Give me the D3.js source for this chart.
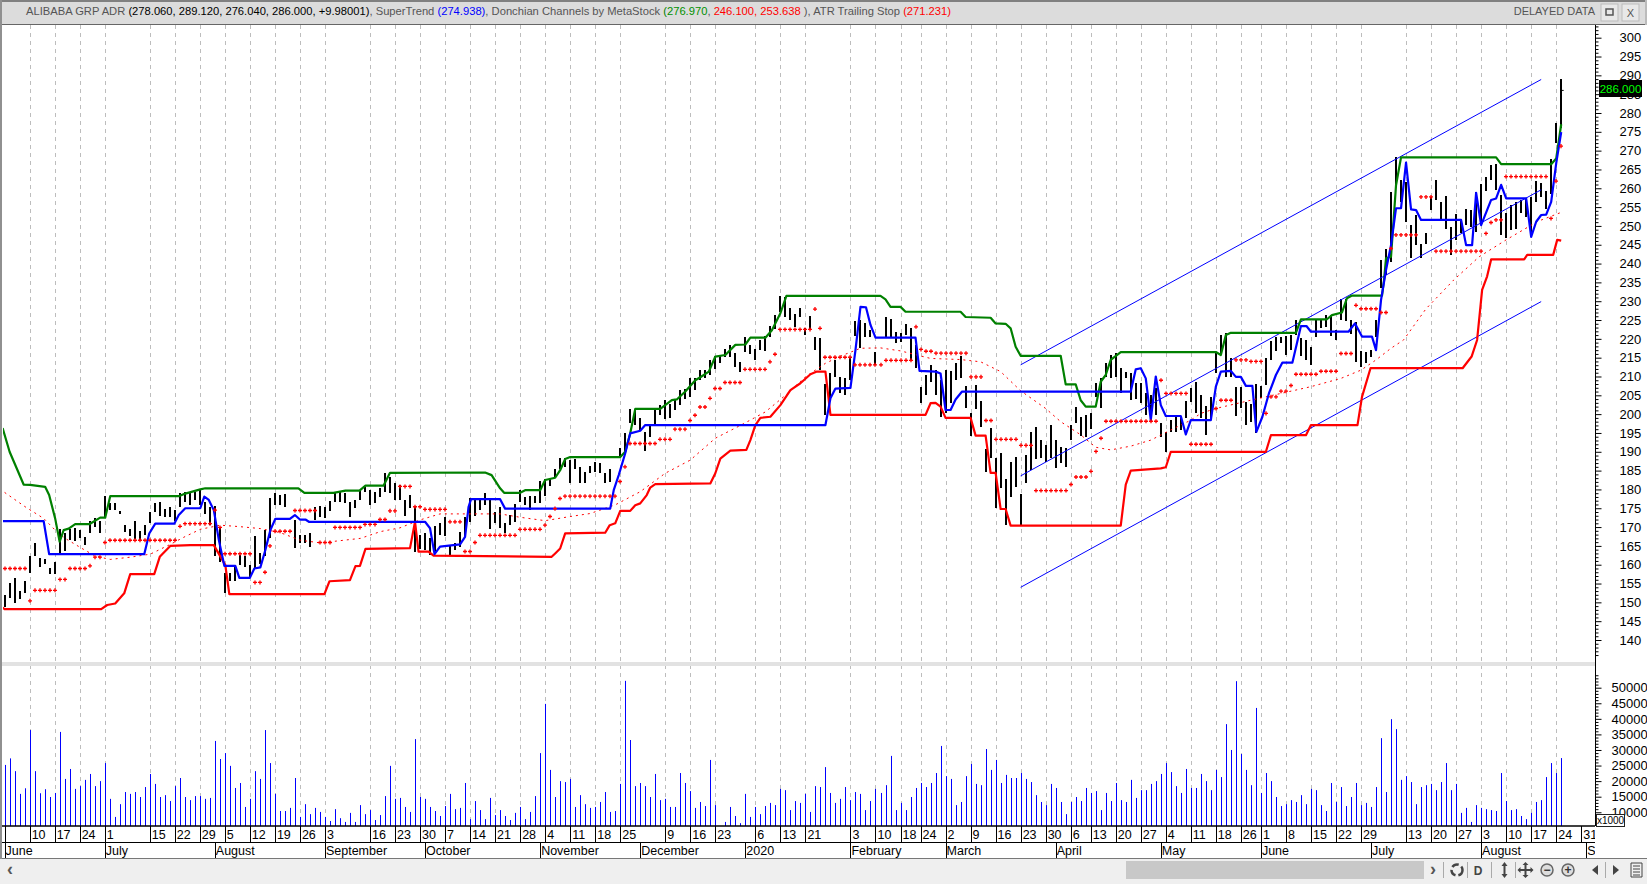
<!DOCTYPE html>
<html><head><meta charset="utf-8">
<script src="https://cdn.jsdelivr.net/npm/d3@7/dist/d3.min.js"></script>
<style>html,body{margin:0;padding:0;background:#fff;overflow:hidden}svg{display:block}text{font-family:"Liberation Sans",Arial,sans-serif}</style>
</head><body><svg id="c" width="1647" height="884"></svg>
<script>
const highs=[152.0,155.2,156.4,153.1,155.8,162.3,165.9,161.9,161.4,159.0,
160.8,169.4,168.3,169.4,169.7,169.2,167.4,171.6,172.3,171.6,
178.2,176.5,176.3,174.3,170.5,169.4,171.7,168.9,170.5,174.1,
176.5,176.6,174.7,175.4,174.5,179.0,179.2,179.4,179.4,179.9,
176.7,175.4,175.6,170.1,157.7,157.7,159.9,162.6,162.3,159.9,
167.6,163.0,169.2,177.8,179.0,178.5,178.7,null,171.9,167.9,
167.9,168.3,175.4,175.6,175.4,177.0,179.4,179.2,179.0,176.7,
177.2,179.8,180.7,179.8,179.4,180.3,184.3,183.4,181.6,181.2,
177.2,178.5,175.4,167.9,168.3,167.0,170.3,171.0,172.6,165.2,
165.7,168.8,172.8,177.6,177.2,177.2,179.0,177.2,174.1,175.4,
171,173.2,176,179.8,178.1,178.3,178.3,182.3,182.7,182.9,
185.3,188.3,188.3,187.8,188,185.9,184.7,186.2,187.4,187.1,
184.3,185.3,null,190.9,195.1,201.4,201.4,198.9,195.3,197.1,
201.1,202.4,203.7,202.8,203.7,206.4,206.6,209.5,209.5,211.7,
211.7,214.3,215.4,215.4,217.4,218.3,216.3,213.9,220.4,218.3,
217.4,219.7,220.7,223.4,226.3,231.3,231.2,228.1,226.7,228.3,
222.8,226,220.4,220.3,208.1,211,214.3,209.9,209.5,214.8,
224.8,225,224.1,222.3,216.6,null,225.7,225.2,221.9,221.5,
223.9,222.8,218.3,207.3,210.4,213.1,211.7,209.1,211.7,211.5,
213.5,215.4,207.5,200.2,207.7,203.5,190.7,196.2,188.3,189.6,
182.7,187.4,188.5,178.8,189.1,195.3,196.5,193.1,191.8,197.1,
193.1,191.4,190.9,197.1,201.8,199.3,199.8,200.4,208.2,209.5,
213.5,215.7,216.3,212.2,211.3,210.8,208.2,208.2,205.5,205.1,
206.9,197.6,195.3,198.4,199.8,199.3,203.6,206.9,208.6,205.1,
202.2,204.6,216.2,221,221.6,214.8,207.3,207.3,203.3,202.8,
208.1,207.4,214.8,219.4,220.5,220.5,220.7,221,225.1,220.1,
219.8,217.9,225.1,225.1,226.3,226.3,222.3,230.5,230.7,225,
224.5,216.8,216.6,217,225.1,240.9,244,259.1,268.4,262.2,
261.7,250.2,252.9,245.3,248.2,257.7,262.2,256.4,257.9,249.8,
253.1,251.5,254.6,254.2,259.1,261.1,263.1,266.2,266.4,258.2,
253.3,255.5,256.4,257,257.3,257.7,262,261.5,259.3,267.7,
277.4,289.1];
const lows=[148.8,151.1,149.7,150.9,152.4,157.9,162.3,159.3,160.2,157.5,
157.5,162.8,163.7,166.6,166.4,167,165.2,168.3,169.9,168.3,
172.3,174.5,174.5,173.5,168.6,167.6,166.8,166.6,167.9,171,
173.9,173,172.8,172.6,171.6,175.2,176.7,175.9,177.2,175.9,
173.4,170.5,162.3,160.8,152.4,155.8,155.8,159.9,159.3,156.8,
158.8,160.2,162.3,167,175.9,175.9,175.4,null,164.4,165.7,
165.7,164.6,171.9,172.8,172.3,174.4,176.7,176.7,176.3,172.8,
175,177.2,179.4,175.9,176.5,178.1,179.4,179,177.2,177.2,
172.9,175,163.5,164.3,163.9,162.6,163,167.9,167.6,162.6,
164,164.8,167.4,171.4,172.9,174.5,175.9,169.4,171,169.7,
168.5,170.5,171.4,176.7,175.9,174.5,176.5,176.5,178.3,180.9,
183.4,185.3,186,181.8,185.3,181.8,181.8,184.3,184.5,184.3,
181.6,182.1,null,188.9,190,197.6,197.1,195.6,190.3,193.8,
197.3,199.7,198.6,199.1,201.2,202.4,203.9,204.6,206.4,209,
209.5,210.4,212.1,213.5,215.2,215.2,212.4,211.2,216.6,215.9,
214.5,217,216.8,220.5,222.5,227.2,225.9,225,223.2,225.9,
221,222.3,217,211.7,199.8,203.7,209.9,205.5,205,209,
220.7,217.5,220.4,220.4,213,null,220.6,220.6,218.8,219.2,
221,214.4,212.2,202.9,205.1,208.6,205.1,199.3,200.2,202.9,
209.1,209.5,201.5,194.3,201.3,196.7,184.5,188.3,175,180.3,
170.5,177.9,180.7,170.5,181.6,185.2,188.1,188.3,187.4,188.3,
185.6,186.9,185.9,193.1,197.6,194.2,193.8,196,204.5,201.5,
209.8,209.5,209.8,205.5,209.5,203.8,203.9,202.9,199.8,198,
199.8,194,190,195.3,195.3,195.8,198.9,203.1,200.4,198.9,
194.5,198.6,210.8,215.7,209.9,209.9,199.5,201.5,197.1,198,
195,204.2,207.7,214.3,216.8,218.8,215.7,217,221,215.4,
214.3,213,220.5,222.8,223.2,220.7,219.7,225,224.8,221.4,
213.9,212.4,213.5,215.2,220.5,233.5,237,240.5,260.8,256.4,
251.1,241.4,244.9,241.4,245.3,254.2,256.9,251.5,249.3,242.2,
246.2,248,250.2,249.8,248.4,250.2,259.3,262.2,259.5,247.6,
246.7,248.9,249.3,253.3,252.4,247.6,256.4,257.7,254.6,258.6,
272.1,276];
const volumeK=[25.2,27.3,23.2,15.9,17.7,36.4,23.2,16.1,17.4,14.9,
16.2,35.8,20.7,23.9,17.5,18.4,20.4,22.3,18.4,20,
25.8,14.3,8.5,12.6,16.5,15.9,16.5,14.9,18.1,22.3,
19.1,14.9,15.5,13.6,18.4,21,14.9,13.9,15.2,15.2,
14.3,14.6,32.9,27.1,29,24.9,17.8,19.4,11.7,14.3,
23.2,20.7,36.4,25.8,15.9,10.4,10.4,11.4,21,8.5,
12.6,9.4,11.4,10.1,8.5,7.2,11,8.1,6.9,9.8,
6.9,12.3,9.4,10.7,7.5,9.1,15.2,24.9,14.3,14.6,
11.7,10.1,33.5,14.9,14.3,11.7,10.4,8.8,12,15.9,
11,11.4,19.4,7.8,13.6,10.7,7.8,14.6,9.1,10.7,
8.8,7.5,9.8,11.7,7.8,10.1,15.2,29,44.8,23.6,
14.9,20,19.7,20.7,11.7,15.5,12.6,11.4,11.7,13.3,
16.5,10.1,10.4,19.1,52.2,33.2,18.4,19.4,18.4,14.9,
22.3,13.9,14.3,11.7,11.7,22.6,19.4,16.8,11.4,13.3,
12,26.8,12.3,5,6.9,11.7,8.8,6.5,15.9,8.5,
11.7,9.4,12,13,12.3,17.5,17.1,10.7,13.6,13,
15.9,10.1,18.4,18.1,24.5,16.2,13,14.3,18.1,13.9,
16.5,15.9,10.7,13.6,17.5,16.2,18.7,28.1,10.7,13,
10.7,14.9,17.8,19.4,18.1,19.4,22.6,31.3,21.6,20.7,
12.3,13.3,21.6,25.5,19.1,18.7,30.3,23.6,26.8,19.4,
22,21,21,22.6,20.7,19.7,15.5,13.3,12.3,19.1,
17.8,13.3,9.4,13.3,14.9,13.6,17.8,16.2,16.8,10.7,
16.2,13.6,19.4,13.9,13.3,20.4,14.6,17.1,17.1,19.1,
20,22.3,25.8,22.9,18.4,16.2,23.9,17.8,17.8,22.3,
20,17.1,23.6,21.3,38.3,30,52.1,28.7,23.6,18.7,
43.5,16.2,22.6,20,14.9,12,12.6,13.9,13.3,15.5,
12.6,17.5,17.1,12.3,10.4,19.4,13.3,18.1,12,14.9,
19.4,12.3,13,11.7,18.1,33.8,16.5,39.9,36.7,20.4,
21.6,19.7,12.6,18.1,18.7,19.1,17.1,19.7,25.8,17.1,
19.1,9.8,11.4,6.9,12.3,11.4,11,10.7,10.4,22.6,
13.6,10.7,11,8.8,7.8,9.8,13.3,13.9,21.3,25.8,
22.6,27.4];
const donchianUpper=[[-0.4,196.3],[1,190],[3.8,181.3],[5.1,181.2],[8.1,180.7],[8.9,178.5],[10.1,172.3],[11,166.1],[11.8,169.2],[12.8,169.6],[14.1,170.8],[17,170.8],[19.1,172.5],[20.1,172.5],[21.1,178.2],[34.8,178.2],[36.1,178.9],[39.1,180],[40.1,180.3],[58.7,180.3],[59.9,179.1],[65.7,179.1],[68.1,179.7],[70.9,179.7],[72.1,181],[75.7,181],[77,184.4],[96,184.5],[97.3,183.8],[99,180.3],[99.8,179.1],[103,179.1],[104,179.8],[107,179.8],[108,182.5],[110,183.1],[111,185.1],[112,188.1],[113,188.6],[123,188.6],[124,190],[125,194.9],[126,201.4],[131,201.4],[133.3,203.7],[134.3,203.9],[136,206],[138,209],[139,209.8],[140.7,211.3],[142,215.3],[144,215.7],[146,218.4],[148,218.5],[149,220.3],[152,220.3],[153.3,222.3],[155,226.8],[156.2,231.4],[175,231.4],[176,230.5],[177,228.5],[179,228.5],[180,227.2],[191,227.2],[192,225.8],[197,225.6],[198,224.1],[200,224],[201,222.8],[202,217.9],[203,215.5],[211,215.5],[212,207.9],[214,207.9],[215,203.7],[216,202],[218,202],[219,208.6],[220,210.4],[221,214.4],[223,216.5],[242,216.5],[243,215.7],[244,221],[245,221.6],[258,221.6],[259,225.2],[264.2,225.2],[265.2,226.3],[267.2,227],[268.2,230.8],[269.2,231.5],[275.2,231.5],[275.6,235.6],[276,241.4],[277,241.8],[278,260.8],[279,268.2],[298,268.2],[299,266.4],[309,266.4],[310,267.9],[311,277]];
const donchianLower=[[-0.4,148.6],[0,148.2],[19.3,148.2],[20.5,149.3],[22.1,149.7],[23.9,152.4],[25.1,157.5],[29.9,157.5],[31,162.1],[33.1,165],[37.1,165.2],[41.8,165.2],[44.1,159.9],[44.9,152.2],[63.9,152.2],[64.9,155.6],[69,155.9],[70.1,159.6],[71,159.7],[72.1,164.2],[81,164.4],[82,171.4],[82.7,163.5],[84.7,163.5],[85.7,162.4],[109.3,162.1],[110,163],[111,164.3],[112,168.3],[120,168.5],[120.9,170.5],[122,171],[123,174.3],[125,174.3],[126,175.8],[127,176.3],[128.3,178.5],[129,180.5],[130,181.4],[141,181.6],[142,184.3],[143,188.2],[145,190.3],[148.2,190.5],[149,193.1],[150,197.1],[151,199],[153,199.3],[155,202.4],[157,206.4],[159,208.2],[161,210.6],[162.3,211.3],[164,211.3],[165,199.8],[184,199.8],[185,202.9],[186,203],[187,202],[188,199],[193,199],[194,194.3],[196,194.3],[197,184.4],[198,184.4],[199,174.8],[200,174.8],[201,170.4],[223,170.4],[224,181.3],[225,185],[231,185.6],[232,185.9],[233,190],[252,190],[253,194.4],[260,194.4],[261,197.1],[270.3,197.1],[271.2,204.6],[272.9,212.2],[291.3,212.2],[293.1,215.3],[294.2,219.7],[295.2,233],[296.2,236.6],[297,241.1],[303.6,241.1],[304.2,242.3],[309.4,242.3],[310.2,246.3],[311,246.1]];
const superTrend=[[-0.4,171.6],[7.8,171.6],[8.9,162.8],[27.9,162.8],[28.9,168.3],[30.1,170.9],[33.9,170.9],[34.8,173.2],[36.1,175],[39.1,175],[39.9,178.1],[40.8,177.2],[41.8,174.5],[42.8,166.6],[43.9,159.7],[46.1,159.7],[46.9,156.5],[49,156.5],[49.9,159],[51.1,159.3],[52.1,163.9],[53.1,169.2],[54.1,172.2],[57,172.2],[58,173.2],[59,172],[60.1,172],[60.8,171.4],[84,171.4],[85,169.7],[85.9,162.8],[87,164.8],[91,165.4],[92,167.4],[92.7,175.4],[93.2,177.4],[99,177.4],[100,174.9],[121,174.9],[121.7,179.8],[122.7,183.8],[124,189.6],[125,194.9],[127,195.6],[128,197.1],[164,197.1],[165,204.2],[166,206.8],[169,207],[170,217],[171,228.5],[172.1,228.4],[173,223.7],[174,220.3],[182,220.3],[182.8,211.5],[186,211.3],[187,210.8],[188,201.1],[189,201.1],[190,203.9],[191.3,206],[225,206],[226,211.9],[227,212.2],[228,209.5],[229,198.4],[230,210],[231,202.4],[232,199.5],[235,199.5],[236,194.6],[237,198.4],[241,198.4],[242,207.3],[243,211.3],[245,211.5],[246,209.9],[247,209.9],[248,207.5],[249.3,207.5],[250.1,195.3],[251.3,199.3],[252.6,205.5],[254,210.4],[255.3,213.7],[257.3,213.7],[258.2,218.8],[259,223.4],[260.1,223.4],[261,221.9],[268.5,221.9],[269.8,224.1],[271.2,220.6],[273.2,220.6],[274,217],[275,230.3],[276,238.3],[277,244.9],[278,254.7],[279,254.7],[280,266.8],[281,254.4],[282,254.2],[283,251.6],[291,251.6],[292,244.9],[293.2,244.9],[294,258.8],[295,250.2],[297,256.9],[298,257.3],[299,260.9],[300,257.3],[304,257.3],[305,247.1],[306,251.1],[307,252.9],[308,253],[309,256.4],[310,266.6],[311,274.9]];
const donchianMid=[[0,179.2],[4.1,175.4],[7.8,172.3],[10.1,169.2],[12.1,167],[15.1,164.6],[18.1,162.3],[21.1,161.4],[25.1,162],[29.1,162.8],[33.1,165.4],[36.1,167.5],[39.1,169.4],[43.1,170.5],[47.1,170.1],[51.1,169.6],[55.1,168.5],[59.1,166.5],[63.1,165.8],[67.1,166.4],[71.1,167],[75.1,168.8],[79,169.8],[83,171.9],[87,173.5],[92,173.5],[99,173.5],[103,172.6],[108,171.7],[113,172.8],[117,173.6],[122,175.9],[127,179.4],[132,184.3],[137,187.8],[142,193.6],[147,197],[152,200.6],[156,205],[160,209.9],[164,213.5],[167,215.4],[171,217.5],[175,217.6],[179,216.8],[185,214.8],[191,214.5],[195,213.9],[199,211.3],[203,206.2],[208,201.5],[211,198],[215,194.5],[218,191.2],[221,190.5],[225,191.5],[229,193.1],[233,195.8],[237,198.4],[239,200.2],[242,201.5],[249,203.7],[255,205.5],[261,207.3],[267,209.5],[271,211.7],[274,214.4],[277,217.5],[279.5,219.7],[284,228],[289.5,235.6],[294.6,241.8],[300,246.3],[306.3,251.2],[311,253.6]];
const stopRuns=[[0,4,159],[5,5,150.4],[6,10,153.2],[11,12,156.1],[13,16,159],[17,17,159.7],[18,19,162],[20,20,165.9],[21,34,166.5],[35,35,170.2],[36,41,170.9],[42,42,174.5],[43,43,169.9],[44,49,162.9],[50,51,155.3],[52,52,158],[53,53,165],[54,57,168.9],[58,62,174.4],[63,65,165.9],[66,71,169.9],[72,74,170.7],[75,76,172],[77,78,174.3],[79,81,180.8],[82,83,175.4],[84,88,174.7],[89,91,171.4],[92,93,163.5],[94,94,165.9],[95,102,167.8],[103,107,169.4],[108,108,170.5],[109,109,172.8],[110,110,174.9],[111,111,177.6],[112,122,178.2],[123,123,182.1],[124,124,186],[125,130,192.2],[131,133,193.3],[134,136,196],[137,137,198.3],[138,138,199.7],[139,140,201.9],[141,141,204.2],[142,143,206.8],[144,147,208.4],[148,152,211.9],[153,153,213.9],[154,154,215.9],[155,161,222.5],[162,162,227.9],[163,163,222.8],[164,169,215.1],[170,175,213.1],[176,181,214.3],[182,182,223.2],[183,183,217.2],[184,185,216.7],[186,192,216.2],[193,195,209.9],[196,197,198.3],[198,202,193.3],[203,205,191.7],[206,212,179.7],[213,213,181.3],[214,216,183.3],[217,217,184.8],[218,218,190.1],[219,219,193.6],[220,230,198.1],[231,231,209],[232,236,205.5],[237,241,192],[242,242,201.5],[243,245,203.7],[246,248,214.4],[249,251,214],[252,252,200.2],[253,254,204.6],[255,256,206.1],[257,257,207.6],[258,262,210.6],[263,266,211.4],[267,269,216.1],[270,270,228.9],[271,274,228],[275,276,227],[277,277,244],[278,282,247.6],[283,285,257.7],[286,295,243.3],[296,296,248],[297,297,250.9],[298,299,251.6],[300,308,263.1],[309,309,252],[310,310,261.9],[311,311,271.2]];
const channelIdx=[203,307];
const channelUpper=[213.1,288.9];
const channelMiddle=[183.6,259.6];
const channelLower=[154,229.9];
const weekIdx=[5,10,15,20,29,34,39,44,49,54,59,64,73,78,83,88,93,98,103,108,113,118,123,132,137,142,150,155,160,169,174,179,183,188,193,198,203,208,213,217,222,227,232,237,242,247,251,256,261,266,271,280,285,290,295,300,305,310,315];
const weekLabels=["10","17","24","1","15","22","29","5","12","19","26","3","16","23","30","7","14","21","28","4","11","18","25","9","16","23","6","13","21","3","10","18","24","2","9","16","23","30","6","13","20","27","4","11","18","26","1","8","15","22","29","13","20","27","3","10","17","24","31"];
const monthIdx=[0,20,42,64,84,107,127,148,169,188,210,231,251,273,295,316];
const monthLabels=["June","July","August","September","October","November","December","2020","February","March","April","May","June","July","August","September"];
const priceTicks=[300,295,290,285,280,275,270,265,260,255,250,245,240,235,230,225,220,215,210,205,200,195,190,185,180,175,170,165,160,155,150,145,140];
const volumeTicks=[50,45,40,35,30,25,20,15,10];
const lastPrice=286.000;

const svg=d3.select("#c");
const AX=1595;
const x=d3.scaleLinear().domain([0,311]).range([4.6,1561.2]);
const y=d3.scaleLinear().domain([300,140]).range([37.7,640]);
const yv=d3.scaleLinear().domain([50,0]).range([687.7,843.4]);

svg.append("rect").attr("width",1647).attr("height",884).attr("fill","#fff");
const defs=svg.append("defs");
defs.append("clipPath").attr("id","pc").append("rect").attr("x",3).attr("y",25).attr("width",AX-3).attr("height",637);
defs.append("clipPath").attr("id","vc").append("rect").attr("x",3).attr("y",666).attr("width",AX-3).attr("height",160);
defs.append("clipPath").attr("id","dc").append("rect").attr("x",3).attr("y",826).attr("width",AX-3).attr("height",33);

// vertical week dashes
svg.append("g").selectAll("line").data(weekIdx.filter(d=>d<311.9)).join("line")
  .attr("x1",d=>Math.round(x(d))+.5).attr("x2",d=>Math.round(x(d))+.5).attr("y1",25).attr("y2",826)
  .attr("stroke","#bdbdbd").attr("stroke-width",1).attr("stroke-dasharray","4,4");

// separator
svg.append("rect").attr("x",2).attr("y",662).attr("width",AX-2).attr("height",4).attr("fill","#e2e2e2");

// price bars
const pane=svg.append("g").attr("clip-path","url(#pc)");
const bars=d3.range(highs.length).filter(i=>highs[i]!=null);
pane.append("g").attr("shape-rendering","crispEdges").selectAll("line").data(bars).join("line")
  .attr("x1",i=>Math.round(x(i))).attr("x2",i=>Math.round(x(i))).attr("y1",i=>y(highs[i])).attr("y2",i=>y(lows[i]))
  .attr("stroke","#000").attr("stroke-width",2);
// last-close notch on the final bar
pane.append("line").attr("x1",x(311)).attr("x2",x(311)+2.5).attr("y1",y(lastPrice)).attr("y2",y(lastPrice)).attr("stroke","#000").attr("stroke-width",1);

// channel
const chan=[channelUpper,channelMiddle,channelLower];
pane.append("g").selectAll("line").data(chan).join("line")
  .attr("x1",x(channelIdx[0])).attr("x2",x(channelIdx[1])).attr("y1",d=>y(d[0])).attr("y2",d=>y(d[1]))
  .attr("stroke","#0000ff").attr("stroke-width",1);

const line=d3.line().x(d=>x(d[0])).y(d=>y(d[1]));
pane.append("path").attr("d",line(donchianMid)).attr("fill","none").attr("stroke","#ff0000").attr("stroke-width",1).attr("stroke-dasharray","2,4");
[[donchianLower,"#ff0000"],[donchianUpper,"#008000"],[superTrend,"#0000ff"]].forEach(([s,c])=>{
  pane.append("path").attr("d",line(s)).attr("fill","none").attr("stroke",c).attr("stroke-width",2.2).attr("stroke-linejoin","round");
});
// ATR trailing stop dots
const stops=stopRuns.flatMap(r=>d3.range(r[0],r[1]+1).map(i=>[i,r[2]]));
pane.append("g").selectAll("path").data(stops).join("path")
  .attr("d",d3.symbol().type(d3.symbolCross).size(9))
  .attr("transform",d=>`translate(${Math.round(x(d[0]))},${y(d[1])})`).attr("fill","#ff0000");

// volume
const vp=svg.append("g").attr("clip-path","url(#vc)");
vp.append("g").selectAll("line").data(volumeK.map((v,i)=>[i,v])).join("line")
  .attr("x1",d=>Math.round(x(d[0]))+.5).attr("x2",d=>Math.round(x(d[0]))+.5)
  .attr("y1",d=>yv(d[1])).attr("y2",826).attr("stroke","#0000ff").attr("stroke-width",1);

// right panel
svg.append("rect").attr("x",AX).attr("y",25).attr("width",1647-AX).attr("height",835).attr("fill","#fff");
// axes
const ga=svg.append("g").attr("transform",`translate(${AX+.5},0)`);
const minor=d3.range(136,305).filter(v=>v%5!==0);
ga.call(d3.axisRight(y).tickValues(minor).tickSize(3).tickFormat("")).call(g=>g.select(".domain").remove());
const gb=svg.append("g").attr("transform",`translate(${AX+.5},0)`).call(
  d3.axisRight(y).tickValues(priceTicks).tickSize(6).tickPadding(18).tickFormat(d3.format("d")));
gb.select(".domain").remove();
gb.selectAll("text").attr("font-size",13).attr("fill","#000").attr("font-family","Liberation Sans");
svg.append("line").attr("x1",AX+.5).attr("x2",AX+.5).attr("y1",25).attr("y2",826).attr("stroke","#000");
const gc=svg.append("g").attr("transform",`translate(${AX+.5},0)`).call(
  d3.axisRight(yv).tickValues(d3.range(6,55).filter(v=>v%5!==0)).tickSize(3).tickFormat(""));
gc.select(".domain").remove();
const gd=svg.append("g").attr("transform",`translate(${AX+.5},0)`).call(
  d3.axisRight(yv).tickValues(volumeTicks).tickSize(6).tickPadding(10).tickFormat(d=>String(d*1000)));
gd.select(".domain").remove();
gd.selectAll("text").attr("font-size",13).attr("fill","#000").attr("font-family","Liberation Sans");

// last price box
svg.append("rect").attr("x",1599).attr("y",80).attr("width",43).attr("height",17).attr("fill","#000");
svg.append("text").attr("x",1620.5).attr("y",92.5).attr("text-anchor","middle").attr("font-size",11.5).attr("fill","#00ff00").text(lastPrice.toFixed(3));
// x1000
svg.append("rect").attr("x",1596.5).attr("y",814.5).attr("width",28).attr("height",12).attr("fill","#fff").attr("stroke","#222");
svg.append("text").attr("x",1610.5).attr("y",824).attr("text-anchor","middle").attr("font-size",10).text("x1000");

// date rows
svg.append("rect").attr("x",2).attr("y",826).attr("width",AX-2).attr("height",33).attr("fill","#fff");
const dg=svg.append("g").attr("clip-path","url(#dc)");
dg.append("g").selectAll("line").data([0,...weekIdx]).join("line")
  .attr("x1",d=>Math.round(x(d))+.5).attr("x2",d=>Math.round(x(d))+.5).attr("y1",826).attr("y2",842).attr("stroke","#000");
dg.append("g").selectAll("text").data(weekIdx).join("text")
  .attr("x",d=>x(d)+2).attr("y",839).attr("font-size",12.5).text((d,i)=>weekLabels[i]);
dg.append("g").selectAll("line").data(monthIdx).join("line")
  .attr("x1",d=>Math.round(x(d))+.5).attr("x2",d=>Math.round(x(d))+.5).attr("y1",842).attr("y2",858).attr("stroke","#000");
dg.append("g").selectAll("text").data(monthIdx).join("text")
  .attr("x",d=>x(d)+1).attr("y",855).attr("font-size",12.5).text((d,i)=>monthLabels[i]);
svg.append("line").attr("x1",2).attr("x2",AX).attr("y1",826).attr("y2",826).attr("stroke","#000").attr("stroke-width",1.5);
svg.append("line").attr("x1",2).attr("x2",AX).attr("y1",842.5).attr("y2",842.5).attr("stroke","#000");
svg.append("line").attr("x1",0).attr("x2",1647).attr("y1",858.5).attr("y2",858.5).attr("stroke","#777");

// header
svg.append("rect").attr("x",0).attr("y",0).attr("width",1647).attr("height",25).attr("fill","#dcdcdc");
svg.append("line").attr("x1",0).attr("x2",1647).attr("y1",1).attr("y2",1).attr("stroke","#808080").attr("stroke-width",2);
svg.append("line").attr("x1",0).attr("x2",1647).attr("y1",24.5).attr("y2",24.5).attr("stroke","#666");
const headerParts=[["ALIBABA GRP ADR ","#555"],["(278.060, 289.120, 276.040, 286.000, +9.98001)","#000"],[", SuperTrend ","#555"],["(274.938)","#0000ff"],[", Donchian Channels by MetaStock ","#555"],["(","#008000"],["276.970","#009000"],[", ","#555"],["246.100, 253.638 ","#ff0000"],["), ATR Trailing Stop ","#555"],["(271.231)","#ff0000"]];
const ht=svg.append("text").attr("x",26).attr("y",15).attr("font-size",11.2);
ht.selectAll("tspan").data(headerParts).join("tspan").attr("fill",d=>d[1]).style("white-space","pre").text(d=>d[0]);
svg.append("text").attr("x",1595).attr("y",15).attr("text-anchor","end").attr("font-size",11).attr("fill","#555").text("DELAYED DATA");
[[1601,"▫"],[1622,"X"]].forEach(([bx,t],k)=>{
  svg.append("rect").attr("x",bx).attr("y",4).attr("width",17).attr("height",17).attr("fill","#e8e8e8").attr("stroke","#bbb");
  if(k==0) svg.append("rect").attr("x",bx+5).attr("y",9).attr("width",7).attr("height",6).attr("fill","none").attr("stroke","#555").attr("stroke-width",1.5);
  else svg.append("text").attr("x",bx+8.5).attr("y",17).attr("text-anchor","middle").attr("font-size",11).attr("fill","#555").text(t);
});

// left frame
svg.append("rect").attr("x",0).attr("y",0).attr("width",2).attr("height",859).attr("fill","#909090");
svg.append("rect").attr("x",1645).attr("y",0).attr("width",2).attr("height",25).attr("fill","#bbb");

// bottom toolbar
svg.append("rect").attr("x",0).attr("y",859).attr("width",1647).attr("height",25).attr("fill","#efefef");
svg.append("rect").attr("x",1126).attr("y",861).attr("width",298).attr("height",18).attr("fill","#c8c8c8");
const tb=[[10,"‹"],[1433,"›"]];
tb.forEach(t=>svg.append("text").attr("x",t[0]).attr("y",875).attr("text-anchor","middle").attr("font-size",18).attr("font-weight","bold").attr("fill","#555").text(t[1]));
svg.append("text").attr("x",1478).attr("y",875).attr("text-anchor","middle").attr("font-size",12).attr("font-weight","bold").attr("fill","#444").text("D");
[1443,1467,1491,1515,1605].forEach(p=>svg.append("line").attr("x1",p+.5).attr("x2",p+.5).attr("y1",862).attr("y2",878).attr("stroke","#aaa"));
svg.append("circle").attr("cx",1457).attr("cy",870).attr("r",5.5).attr("fill","none").attr("stroke","#444").attr("stroke-width",2.5).attr("stroke-dasharray","7,3");
svg.append("path").attr("d","M1504.5 862l3 4h-2v8h2l-3 4l-3-4h2v-8h-2z").attr("fill","#444");
svg.append("path").attr("d","M1525.5 862l3 3h-2v4h4v-2l3 3l-3 3v-2h-4v4h2l-3 3l-3-3h2v-4h-4v2l-3-3l3-3v2h4v-4h-2z").attr("fill","#444");
[[1547,"−"],[1568,"+"]].forEach(t=>{
  svg.append("circle").attr("cx",t[0]).attr("cy",870).attr("r",6).attr("fill","#ddd").attr("stroke","#666").attr("stroke-width",1.5);
  svg.append("text").attr("x",t[0]).attr("y",874).attr("text-anchor","middle").attr("font-size",12).attr("font-weight","bold").attr("fill","#333").text(t[1]);
});
svg.append("path").attr("d","M1598 865l-6 5l6 5z").attr("fill","#444");
svg.append("path").attr("d","M1613 865l6 5l-6 5z").attr("fill","#444");
svg.append("path").attr("d","M1631 863h11v14h-11zM1633 866h7M1633 869h7M1633 872h7M1633 875h7").attr("fill","none").attr("stroke","#444");
</script></body></html>
